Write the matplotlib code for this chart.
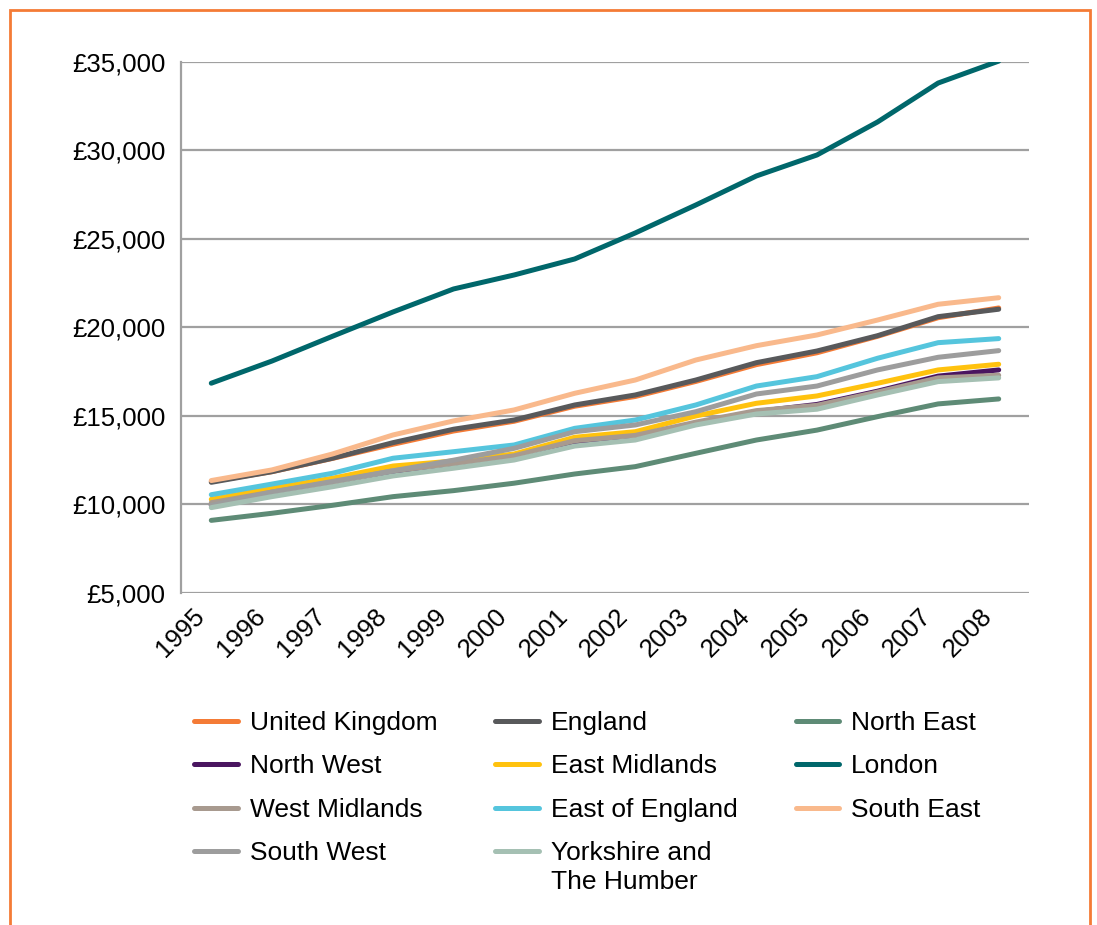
import matplotlib.pyplot as plt
from matplotlib.patches import Rectangle
from matplotlib.ticker import FuncFormatter
from matplotlib.transforms import ScaledTranslation

plt.rcParams['font.family'] = ['Liberation Sans', 'DejaVu Sans']

years = ['1995', '1996', '1997', '1998', '1999', '2000', '2001',
         '2002', '2003', '2004', '2005', '2006', '2007', '2008']

united_kingdom = [11300, 11850, 12600, 13400, 14150, 14700, 15550,
                  16100, 16950, 17900, 18570, 19500, 20550, 21100]
england = [11250, 11850, 12610, 13490, 14250, 14770, 15620,
           16185, 17030, 18010, 18670, 19535, 20610, 21030]
north_east = [9100, 9500, 9950, 10440, 10780, 11200, 11720,
              12135, 12890, 13640, 14200, 14960, 15680, 15960]
north_west = [9950, 10550, 11100, 11800, 12200, 12700, 13500,
              13800, 14600, 15250, 15650, 16400, 17250, 17600]
east_midlands = [10290, 10910, 11480, 12170, 12455, 12850, 13795,
                 14110, 15000, 15715, 16130, 16846, 17600, 17920]
london = [16850, 18100, 19500, 20875, 22175, 22965, 23870,
          25340, 26920, 28560, 29745, 31610, 33810, 35050]
west_midlands = [10100, 10700, 11250, 11900, 12300, 12750, 13600,
                 13900, 14650, 15300, 15600, 16350, 17150, 17300]
east_of_england = [10550, 11150, 11760, 12610, 12980, 13360, 14300,
                   14770, 15620, 16690, 17220, 18260, 19140, 19370]
south_east = [11350, 11950, 12850, 13925, 14720, 15340, 16280,
              17030, 18160, 18970, 19575, 20420, 21310, 21680]
south_west = [9950, 10700, 11300, 11900, 12500, 13170, 14110,
              14490, 15240, 16240, 16690, 17600, 18315, 18690]
yorkshire = [9820, 10440, 11000, 11610, 12045, 12510, 13300,
             13640, 14490, 15110, 15380, 16185, 16940, 17150]

series = [
    ('United Kingdom', united_kingdom, '#f47b36'),
    ('England', england, '#58595b'),
    ('North East', north_east, '#5e8b76'),
    ('North West', north_west, '#4a1560'),
    ('East Midlands', east_midlands, '#ffc20e'),
    ('London', london, '#00676b'),
    ('West Midlands', west_midlands, '#a89a8f'),
    ('East of England', east_of_england, '#55c5dd'),
    ('South East', south_east, '#f9b98c'),
    ('South West', south_west, '#9d9d9d'),
    ('Yorkshire and', yorkshire, '#a5c0b3'),
]

fig = plt.figure(figsize=(10.97, 9.25), dpi=100)
ax = fig.add_axes([0.165, 0.359, 0.773, 0.574])

x = range(len(years))
handles = {}
for name, vals, col in series:
    ln, = ax.plot(x, vals, color=col, lw=3.6, solid_capstyle='round',
                  solid_joinstyle='round', label=name)
    handles[name] = ln

ax.set_xlim(-0.5, len(years) - 0.5)
ax.set_ylim(5000, 35000)
ax.set_yticks(range(5000, 35001, 5000))
ax.yaxis.set_major_formatter(FuncFormatter(lambda v, p: '£{:,.0f}'.format(v)))
ax.set_xticks(list(x))
ax.set_xticklabels(years, rotation=45, ha='right', rotation_mode='anchor')
ax.tick_params(axis='both', length=0, labelsize=18.5)
ax.tick_params(axis='y', pad=11)
ax.tick_params(axis='x', pad=8)
shift = ScaledTranslation(-0.19, 0, fig.dpi_scale_trans)
for lab in ax.get_xticklabels():
    lab.set_transform(lab.get_transform() + shift)
ax.grid(axis='y', color='#a0a0a0', lw=1.6)
ax.set_axisbelow(True)
for s in ['top', 'right', 'bottom']:
    ax.spines[s].set_visible(False)
ax.spines['left'].set_color('#a0a0a0')
ax.spines['left'].set_linewidth(1.6)

# legend in row order of the original, matplotlib fills by column
order = ['United Kingdom', 'North West', 'West Midlands', 'South West',
         'England', 'East Midlands', 'East of England', 'Yorkshire and',
         'North East', 'London', 'South East']
leg = fig.legend([handles[n] for n in order], order, ncol=3, frameon=False,
                 fontsize=19, loc='upper left', bbox_to_anchor=(0.1675, 0.243),
                 handlelength=1.65, handletextpad=0.45, columnspacing=2.2,
                 labelspacing=0.74, borderaxespad=0)

# second line of the Yorkshire label, under the first one
fig.canvas.draw()
for t in leg.get_texts():
    if t.get_text() == 'Yorkshire and':
        bb = t.get_window_extent()
        fig.text(bb.x0 / fig.bbox.width, (bb.y0 + bb.y1) / 2 / fig.bbox.height - 29 / 925,
                 'The Humber', fontsize=19, va='center', ha='left')

fig.patches.append(Rectangle((10 / 1097, -0.05), 1080 / 1097, 1.05 - 10 / 925,
                             transform=fig.transFigure, fill=False,
                             edgecolor='#f47b36', lw=2, clip_on=False))

fig.savefig('out.png', dpi=100)
